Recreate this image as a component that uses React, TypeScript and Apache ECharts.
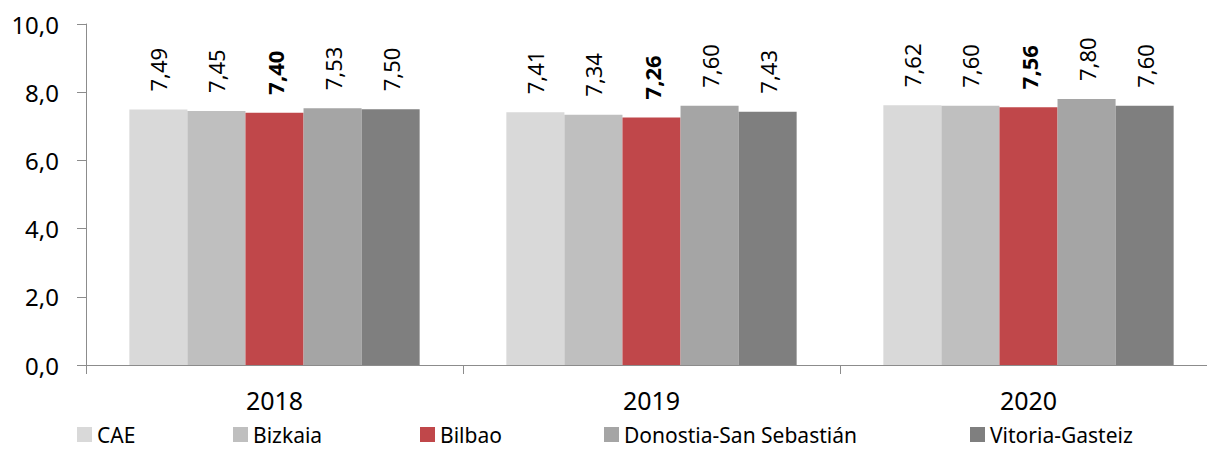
import React, { useEffect, useRef } from "react";
import * as echarts from "echarts";

const years = ["2018", "2019", "2020"];
const seriesNames = ["CAE", "Bizkaia", "Bilbao", "Donostia-San Sebastián", "Vitoria-Gasteiz"];
const cae = [7.49, 7.41, 7.62];
const bizkaia = [7.45, 7.34, 7.6];
const bilbao = [7.4, 7.26, 7.56];
const donostia = [7.53, 7.6, 7.8];
const vitoria = [7.5, 7.43, 7.6];
const colors = ["#D9D9D9", "#BFBFBF", "#C0474A", "#A5A5A5", "#7F7F7F"];
const legendLefts = [77, 233, 420, 604, 970];

const FONT = "'Noto Sans', 'Open Sans', sans-serif";

export default function App() {
  const ref = useRef<HTMLDivElement>(null);
  useEffect(() => {
    if (!ref.current) return;
    const chart = echarts.init(ref.current, undefined, { renderer: "svg" });
    const values = [cae, bizkaia, bilbao, donostia, vitoria];
    const fmt = (v: number, d: number) => v.toFixed(d).replace(".", ",");
    chart.setOption({
      animation: false,
      textStyle: { fontFamily: FONT },
      grid: { left: 86, top: 24, bottom: 84, right: 3 },
      legend: seriesNames.map((n, i) => ({
        data: [n],
        left: legendLefts[i],
        top: 424,
        padding: 0,
        itemWidth: 15,
        itemHeight: 15,
        selectedMode: false,
        icon: "rect",
        textStyle: { fontSize: 21, lineHeight: 18, color: "#000", fontFamily: FONT },
      })),
      xAxis: {
        type: "category",
        data: years,
        axisLine: { lineStyle: { color: "#8C8C8C" } },
        axisTick: { show: true, length: 9, lineStyle: { color: "#8C8C8C" } },
        axisLabel: { fontSize: 25, color: "#000", margin: 22, fontFamily: FONT },
      },
      yAxis: {
        type: "value",
        min: 0,
        max: 10,
        interval: 2,
        axisLine: { show: true, lineStyle: { color: "#8C8C8C" } },
        axisTick: { show: true, length: 9, lineStyle: { color: "#8C8C8C" } },
        splitLine: { show: false },
        axisLabel: {
          fontSize: 24,
          color: "#000",
          margin: 27,
          fontFamily: FONT,
          formatter: (v: number) => fmt(v, 1),
        },
      },
      series: seriesNames.map((n, i) => ({
        name: n,
        type: "bar",
        data: values[i],
        barGap: "0%",
        barCategoryGap: "23%",
        itemStyle: { color: colors[i] },
        label: {
          show: true,
          position: "top",
          rotate: 90,
          align: "left",
          verticalAlign: "middle",
          distance: 18,
          fontSize: 22,
          color: "#000",
          fontFamily: FONT,
          fontWeight: i === 2 ? "bold" : "normal",
          formatter: (p: any) => fmt(p.value, 2),
        },
      })),
    });
    return () => chart.dispose();
  }, []);
  return (
    <div
      ref={ref}
      style={{ position: "fixed", left: 0, top: 0, width: 1220, height: 449, background: "#fff" }}
    />
  );
}
